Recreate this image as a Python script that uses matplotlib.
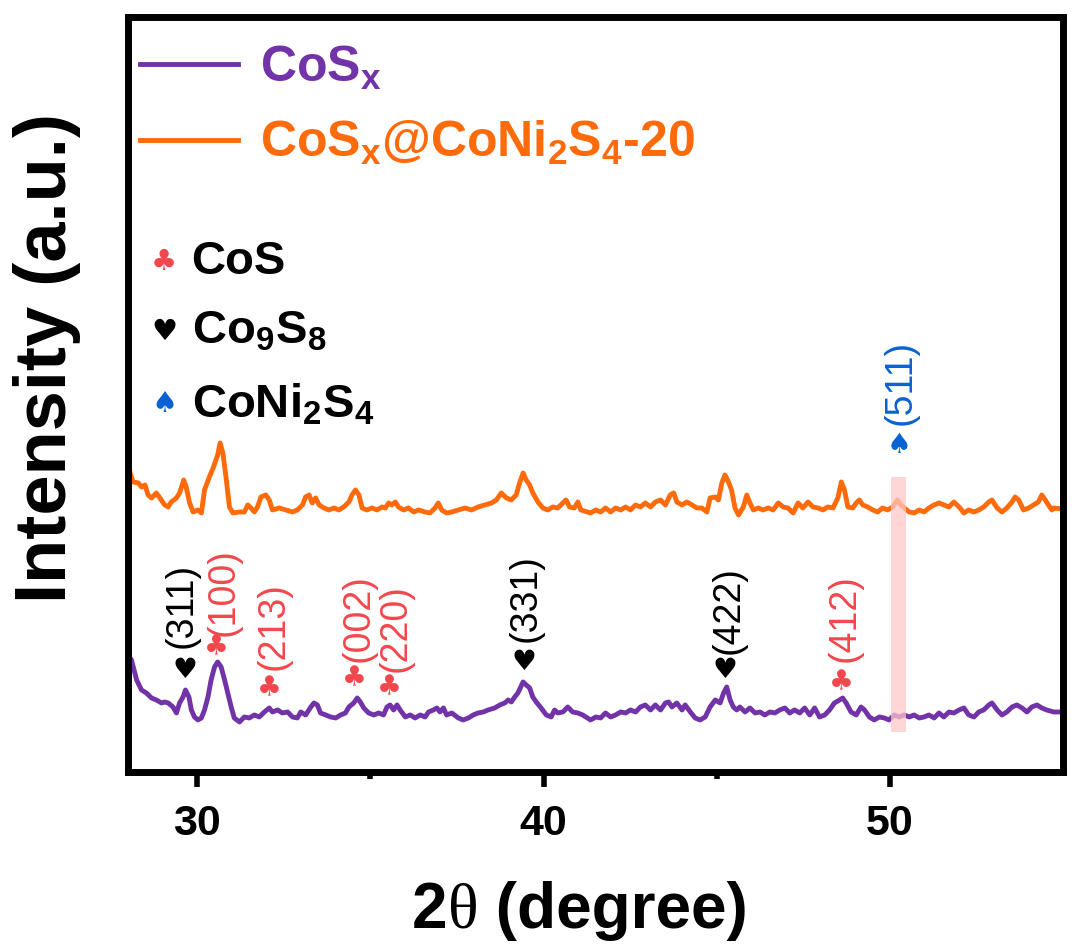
import matplotlib
matplotlib.use("Agg")
import matplotlib.pyplot as plt
from matplotlib.offsetbox import TextArea, HPacker, AnchoredOffsetbox

plt.rcParams["font.family"] = ["Liberation Sans", "DejaVu Sans"]
plt.rcParams["font.weight"] = "bold"
plt.rcParams["mathtext.fontset"] = "custom"
plt.rcParams["mathtext.rm"] = "Liberation Serif"
plt.rcParams["mathtext.bf"] = "Liberation Sans:bold"
plt.rcParams["mathtext.it"] = "Liberation Sans:italic"

# CoSx pattern (2theta in degree, intensity in a.u.)
tt_cosx = [27.96, 28.10, 28.25, 28.39, 28.53, 28.68, 28.82, 28.97, 29.06, 29.16,
           29.30, 29.40, 29.49, 29.59, 29.66, 29.76, 29.83, 29.92, 30.02, 30.12,
           30.21, 30.31, 30.40, 30.50, 30.59, 30.69, 30.79, 30.88, 30.98, 31.07,
           31.22, 31.36, 31.50, 31.65, 31.79, 31.94, 32.08, 32.17, 32.32, 32.46,
           32.61, 32.75, 32.89, 32.99, 33.13, 33.28, 33.37, 33.47, 33.56, 33.71,
           33.85, 34.00, 34.14, 34.28, 34.38, 34.52, 34.62, 34.71, 34.81, 34.95,
           35.10, 35.24, 35.38, 35.48, 35.57, 35.67, 35.77, 35.86, 36.01, 36.15,
           36.29, 36.44, 36.58, 36.68, 36.82, 36.92, 37.01, 37.11, 37.20, 37.35,
           37.54, 37.68, 37.83, 37.97, 38.11, 38.26, 38.40, 38.59, 38.74, 38.88,
           38.98, 39.07, 39.17, 39.26, 39.41, 39.50, 39.60, 39.69, 39.79, 39.93,
           40.08, 40.22, 40.32, 40.41, 40.56, 40.70, 40.84, 40.99, 41.13,
           41.36, 41.51, 41.65, 41.79, 41.94, 42.08, 42.23, 42.37, 42.51, 42.66,
           42.80, 42.94, 43.09, 43.23, 43.38, 43.52, 43.61, 43.71, 43.85, 44.00,
           44.09, 44.24, 44.38, 44.52, 44.67, 44.81, 44.96, 45.10, 45.20, 45.29,
           45.39, 45.48, 45.58, 45.67, 45.82, 45.96, 46.11, 46.25, 46.39, 46.54,
           46.68, 46.82, 46.97, 47.11, 47.25, 47.40, 47.54, 47.69, 47.83, 47.97,
           48.12, 48.26, 48.40, 48.55, 48.64, 48.74, 48.88, 49.03, 49.17, 49.27,
           49.41, 49.55, 49.70, 49.84, 49.98, 50.13, 50.27, 50.42, 50.56, 50.70,
           50.85, 50.99, 51.13, 51.28, 51.42, 51.56, 51.71, 51.85, 52.00, 52.14,
           52.28, 52.43, 52.57, 52.71, 52.86, 52.95, 53.10, 53.24, 53.38, 53.53,
           53.67, 53.82, 53.96, 54.10, 54.25, 54.39, 54.53, 54.73, 55.00]
int_cosx = [119, 112, 92, 82, 79, 74, 72, 69, 70, 69,
            65, 59, 69, 75, 82, 75, 62, 55, 52, 54,
            62, 75, 92, 105, 110, 105, 92, 79, 65, 54,
            50, 55, 54, 57, 55, 60, 64, 60, 62, 59,
            60, 55, 54, 60, 57, 65, 69, 67, 59, 57,
            55, 54, 57, 59, 65, 69, 74, 70, 64, 59,
            57, 59, 57, 65, 67, 62, 67, 62, 55, 57,
            54, 57, 55, 60, 62, 64, 60, 64, 57, 59,
            54, 52, 54, 57, 59, 60, 62, 64, 67, 69,
            72, 70, 75, 79, 90, 87, 84, 75, 70, 64,
            57, 55, 62, 59, 60, 65, 60, 59, 57,
            52, 55, 54, 59, 55, 57, 60, 59, 62, 60,
            65, 67, 62, 67, 62, 69, 70, 65, 69, 62,
            67, 60, 54, 52, 55, 65, 72, 69, 79, 85,
            72, 65, 62, 65, 60, 64, 59, 60, 57, 60,
            59, 62, 64, 59, 62, 59, 64, 57, 64, 55,
            57, 62, 69, 72, 74, 69, 60, 57, 65, 62,
            55, 52, 55, 54, 52, 57, 55, 57, 55, 57,
            54, 55, 57, 54, 59, 55, 60, 59, 62, 64,
            57, 55, 60, 62, 67, 69, 62, 57, 60, 65,
            67, 64, 60, 65, 67, 64, 62, 60, 60]

# CoSx@CoNi2S4-20 pattern
tt_coni = [27.96, 28.06, 28.15, 28.30, 28.39, 28.49, 28.58, 28.68, 28.82, 28.92,
           29.06, 29.16, 29.25, 29.40, 29.49, 29.61, 29.68, 29.78, 29.88, 30.02,
           30.12, 30.21, 30.35, 30.47, 30.59, 30.66, 30.74, 30.83, 30.93, 31.03,
           31.22, 31.36, 31.46, 31.55, 31.65, 31.74, 31.84, 31.98, 32.08, 32.17,
           32.37, 32.56, 32.75, 32.89, 33.04, 33.13, 33.23, 33.32, 33.42, 33.52,
           33.66, 33.80, 33.95, 34.09, 34.23, 34.38, 34.47, 34.57, 34.67, 34.76,
           34.90, 35.05, 35.19, 35.34, 35.43, 35.53, 35.62, 35.72, 35.81, 35.96,
           36.10, 36.25, 36.39, 36.58, 36.72, 36.87, 36.96, 37.06, 37.20, 37.35,
           37.54, 37.73, 37.92, 38.11, 38.31, 38.50, 38.64, 38.78, 38.93, 39.07,
           39.21, 39.31, 39.41, 39.50, 39.60, 39.69, 39.84, 39.98, 40.12, 40.27,
           40.41, 40.56, 40.65, 40.75, 40.89, 40.99, 41.08,
           41.36, 41.51, 41.65, 41.79, 41.94, 42.08, 42.23, 42.37, 42.51, 42.66,
           42.80, 42.94, 43.09, 43.23, 43.38, 43.52, 43.66, 43.76, 43.85, 44.00,
           44.14, 44.29, 44.43, 44.57, 44.72, 44.81, 44.96, 45.05, 45.15, 45.24,
           45.34, 45.43, 45.53, 45.63, 45.77, 45.87, 45.96, 46.06, 46.20, 46.34,
           46.49, 46.63, 46.78, 46.92, 47.06, 47.21, 47.35, 47.49, 47.64, 47.78,
           47.93, 48.07, 48.21, 48.36, 48.50, 48.60, 48.69, 48.79, 48.93, 49.03,
           49.12, 49.22, 49.36, 49.51, 49.65, 49.79, 49.94, 50.08, 50.22, 50.32,
           50.42, 50.56, 50.70, 50.85, 50.99, 51.13, 51.28, 51.42, 51.56, 51.71,
           51.85, 52.00, 52.14, 52.28, 52.43, 52.57, 52.71, 52.86, 52.95, 53.10,
           53.24, 53.38, 53.53, 53.62, 53.72, 53.86, 54.01, 54.15, 54.29, 54.39,
           54.49, 54.58, 54.68, 54.73, 55.00]
int_coni = [322, 299, 290, 289, 285, 287, 277, 274, 279, 274,
            267, 265, 270, 274, 279, 292, 285, 269, 260, 262,
            259, 282, 295, 305, 317, 329, 319, 295, 265, 259,
            260, 260, 267, 264, 260, 265, 275, 277, 272, 262,
            264, 262, 260, 262, 267, 275, 277, 269, 274, 267,
            264, 262, 264, 262, 265, 270, 277, 282, 277, 264,
            262, 264, 262, 265, 264, 269, 267, 270, 265, 262,
            264, 260, 262, 260, 259, 264, 269, 262, 259, 260,
            262, 264, 262, 265, 267, 269, 272, 279, 274, 272,
            277, 289, 299, 292, 287, 279, 270, 264, 262, 265,
            264, 269, 272, 265, 264, 270, 262,
            259, 262, 260, 264, 260, 264, 262, 265, 262, 267,
            265, 269, 265, 270, 272, 267, 277, 279, 270, 267,
            270, 267, 264, 264, 260, 274, 275, 272, 289, 297,
            290, 282, 264, 257, 265, 277, 269, 262, 264, 262,
            264, 262, 269, 265, 264, 259, 269, 264, 270, 265,
            264, 262, 265, 264, 274, 290, 282, 265, 264, 269,
            272, 267, 265, 262, 260, 264, 262, 265, 272, 267,
            264, 260, 259, 262, 260, 264, 267, 269, 267, 265,
            270, 265, 259, 262, 260, 262, 265, 270, 272, 264,
            260, 264, 270, 275, 272, 262, 264, 267, 270, 277,
            272, 267, 262, 264, 263]

# peak assignments
peak_tt = [29.64, 30.55, 32.08, 34.55, 35.56, 39.44, 45.24, 48.60, 50.27]
peak_hkl = ["(311)", "(100)", "(213)", "(002)", "(220)", "(331)", "(422)", "(412)", "(511)"]
peak_phase = ["Co9S8", "CoS", "CoS", "CoS", "CoS", "Co9S8", "Co9S8", "CoS", "CoNi2S4"]
# label placement: symbol centre, text column centre / bottom
sym_y = [102, 125, 84, 94, 85, 110, 102, 90, 327]
txt_tt = [29.55, 30.76, 32.20, 34.67, 35.73, 39.49, 45.36, 48.69, 50.30]
txt_y = [124, 136, 102, 110, 100, 130, 118, 110, 347]

# highlighted region around CoNi2S4 (511)
band_tt = (50.04, 50.47)
band_int = (40, 295)

c_purple = "#7232A8"
c_orange = "#FF6A0A"
c_red = "#F2474D"
c_blue = "#0A62D2"
phases = {
    "CoS": ("\u2663", c_red, "CoS"),
    "Co9S8": ("\u2665", "black", r"Co$_{\mathbf{9}}$S$_{\mathbf{8}}$"),
    "CoNi2S4": ("\u2660", c_blue, r"CoNi$_{\mathbf{2}}$S$_{\mathbf{4}}$"),
}

fig = plt.figure(figsize=(10.8, 9.52), dpi=100)
ax = fig.add_axes([0.1185, 0.1891, 0.8657, 0.7931])

l1, = ax.plot(tt_cosx, int_cosx, color=c_purple, lw=3.5, solid_joinstyle="round")
l2, = ax.plot(tt_coni, int_coni, color=c_orange, lw=3.5, solid_joinstyle="round")

ax.fill_between(band_tt, band_int[0], band_int[1], color="#FFC8C8", alpha=0.75,
                lw=0, zorder=3)

for x, xt, hkl, ph, ys, yt in zip(peak_tt, txt_tt, peak_hkl, peak_phase, sym_y, txt_y):
    sym, col, _ = phases[ph]
    ax.text(x, ys, sym, color=col, fontsize=20, ha="center", va="center",
            family="DejaVu Sans", zorder=5)
    ax.text(xt, yt, hkl, color=col, fontsize=27, fontweight="normal", rotation=90,
            ha="center", va="bottom", zorder=5)

ax.set_xlim(28, 55)
ax.set_ylim(0, 755)
ax.set_xticks([30, 40, 50])
ax.set_xticks([35, 45], minor=True)
ax.set_yticks([])
ax.tick_params(axis="x", which="major", direction="out", length=11, width=4,
               labelsize=31, pad=12)
ax.tick_params(axis="x", which="minor", direction="out", length=5, width=4)
for lab in ax.get_xticklabels():
    lab.set_fontweight("bold")
for sp in ax.spines.values():
    sp.set_linewidth(5)

leg = ax.legend([l1, l2], [r"CoS$_{\mathbf{x}}$",
                           r"CoS$_{\mathbf{x}}$@CoNi$_{\mathbf{2}}$S$_{\mathbf{4}}$-20"],
                loc="upper left", bbox_to_anchor=(0, 0.9815), frameon=False,
                fontsize=36, handlelength=1.95, handletextpad=0.45,
                borderaxespad=0.0, borderpad=0.25, labelspacing=0.55)
for txt, col in zip(leg.get_texts(), [c_purple, c_orange]):
    txt.set_color(col)
    txt.set_fontweight("bold")

# phase symbol key
key_y = [0.675, 0.583, 0.487]
for ky, ph in zip(key_y, ["CoS", "Co9S8", "CoNi2S4"]):
    sym, col, name = phases[ph]
    ax.text(0.0385, ky, sym, color=col, fontsize=21, ha="center", va="center",
            family="DejaVu Sans", transform=ax.transAxes)
    ax.text(0.068, ky, name, color="black", fontsize=34, fontweight="bold",
            ha="left", va="center", transform=ax.transAxes)

# x label: bold sans with a light serif theta
xl_parts = [
    TextArea("2", textprops=dict(fontsize=46, fontweight="bold", family="Liberation Sans")),
    TextArea("\u03b8", textprops=dict(fontsize=46, fontweight="normal", family="Liberation Serif")),
    TextArea(" (degree)", textprops=dict(fontsize=46, fontweight="bold", family="Liberation Sans")),
]
xl_box = HPacker(children=xl_parts, align="baseline", pad=0, sep=0)
xl_anchor = AnchoredOffsetbox(loc="center", child=xl_box, pad=0, borderpad=0,
                              frameon=False, bbox_to_anchor=(0.537, 0.043),
                              bbox_transform=fig.transFigure)
fig.add_artist(xl_anchor)

fig.text(0.0435, 0.624, "Intensity (a.u.)", fontsize=52, fontweight="bold",
         rotation=90, ha="center", va="center")

fig.savefig("out.png", dpi=100)
